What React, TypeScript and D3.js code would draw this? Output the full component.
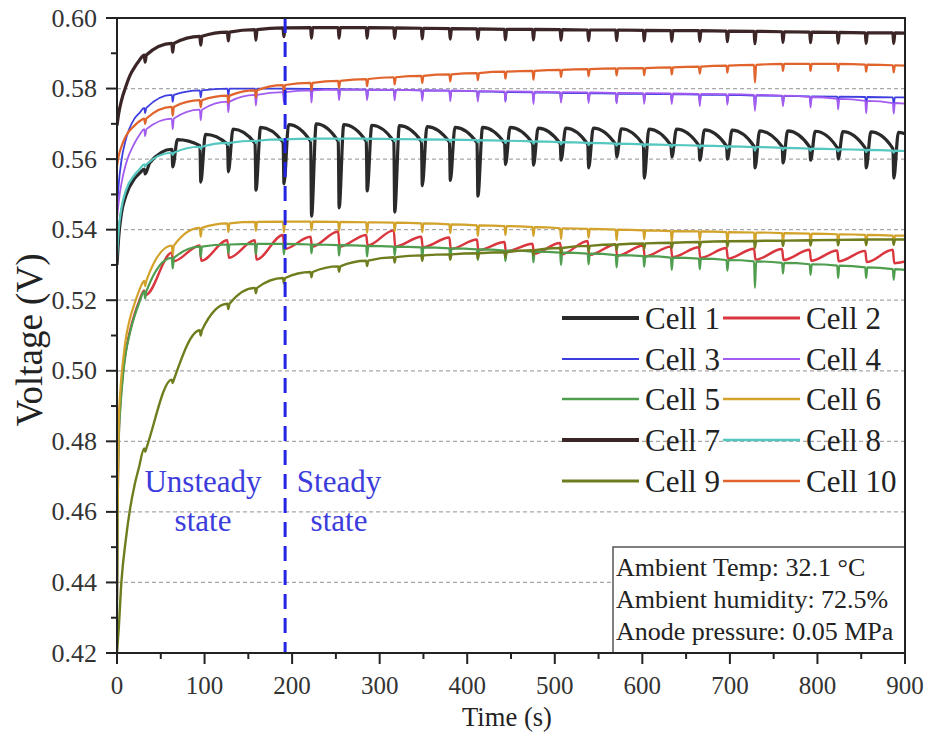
import React from 'react';
import * as d3 from 'd3';

const W = 928;
const H = 733;
const PLOT = { left: 117, right: 905, top: 18, bottom: 653 };
const FONT = "'Liberation Serif', 'Times New Roman', serif";

// Purge (spike) instants, seconds
const purgeTimes = [31.5, 63, 95, 126.5, 158, 190, 221.5, 253, 285, 316.5, 348, 380, 411.5, 443, 475, 506.5, 538, 570, 601.5, 633, 665, 696.5, 728, 760, 791.5, 823, 855, 886.5];

const seriesNames = ['Cell 1', 'Cell 2', 'Cell 3', 'Cell 4', 'Cell 5', 'Cell 6', 'Cell 7', 'Cell 8', 'Cell 9', 'Cell 10'];
const seriesColors = ['#2a2a2a', '#d9363e', '#3d3de0', '#a35cf0', '#4f9e4f', '#d2a22a', '#3b2526', '#55c7c0', '#6f7d1e', '#e0642c'];

// start-up ramps [t, V]
const ramp1 = [[0, 0.530], [2, 0.538], [5, 0.5445], [10, 0.5495], [20, 0.5545], [26, 0.556]];
const ramp2 = [[0, 0.435], [1, 0.468], [2, 0.482], [4, 0.4915], [7, 0.5], [10, 0.5055], [15, 0.5115], [20, 0.516], [25, 0.5195]];
const ramp3 = [[0, 0.545], [2, 0.553], [5, 0.5595], [10, 0.5655], [20, 0.5715], [26, 0.5732]];
const ramp4 = [[0, 0.543], [2, 0.548], [5, 0.553], [10, 0.5585], [20, 0.5645], [26, 0.567]];
const ramp5 = [[0, 0.43], [1, 0.465], [2, 0.48], [4, 0.49], [7, 0.499], [10, 0.505], [15, 0.511], [20, 0.5155], [25, 0.519]];
const ramp6 = [[0, 0.44], [1, 0.47], [2, 0.485], [4, 0.495], [7, 0.503], [10, 0.509], [15, 0.515], [20, 0.519], [25, 0.5225]];
const ramp7 = [[0, 0.5695], [2, 0.573], [5, 0.5765], [10, 0.5805], [15, 0.5838], [20, 0.586], [25, 0.5878]];
const ramp8 = [[0, 0.532], [2, 0.54], [5, 0.546], [10, 0.551], [20, 0.5555], [26, 0.5572]];
const ramp9 = [[0, 0.42], [2, 0.427], [5, 0.44], [10, 0.452], [15, 0.461], [20, 0.4675], [25, 0.4725]];
const ramp10 = [[0, 0.558], [2, 0.561], [5, 0.5635], [10, 0.5665], [20, 0.5695], [26, 0.5708]];

// Cell 1: value before each purge, bottom of dip, recovered peak
const cell1Pre = [0.5572, 0.5628, 0.5638, 0.5642, 0.5645, 0.5648, 0.565, 0.565, 0.565, 0.565, 0.565, 0.5648, 0.5646, 0.5645, 0.5645, 0.5644, 0.5642, 0.5641, 0.564, 0.5639, 0.5638, 0.5637, 0.5636, 0.5635, 0.5634, 0.5632, 0.5631, 0.563];
const cell1Dip = [0.5558, 0.5578, 0.5535, 0.5564, 0.5512, 0.553, 0.5438, 0.5462, 0.551, 0.545, 0.5525, 0.554, 0.5495, 0.5585, 0.5583, 0.5597, 0.5575, 0.5606, 0.5546, 0.5606, 0.5597, 0.56, 0.5575, 0.5589, 0.5597, 0.56, 0.5575, 0.5546];
const cell1Peak = [0.559, 0.5655, 0.567, 0.5685, 0.569, 0.5698, 0.57, 0.5698, 0.5696, 0.5695, 0.5692, 0.569, 0.569, 0.569, 0.5688, 0.5688, 0.5688, 0.5686, 0.5685, 0.5685, 0.5683, 0.5682, 0.568, 0.568, 0.5679, 0.5678, 0.5677, 0.5676];

// Cell 2: value before each purge, value just after
const cell2Pre = [0.5228, 0.5335, 0.5355, 0.537, 0.537, 0.5385, 0.538, 0.5395, 0.5385, 0.5398, 0.538, 0.5378, 0.5372, 0.5365, 0.536, 0.5362, 0.5368, 0.5358, 0.5355, 0.5352, 0.535, 0.5348, 0.5346, 0.5345, 0.5343, 0.5341, 0.534, 0.5343];
const cell2Low = [0.5215, 0.531, 0.5312, 0.532, 0.5315, 0.5345, 0.5352, 0.5352, 0.5355, 0.5352, 0.535, 0.5345, 0.5342, 0.5338, 0.5332, 0.533, 0.5328, 0.5326, 0.5324, 0.5322, 0.532, 0.5318, 0.5315, 0.5314, 0.5312, 0.531, 0.5308, 0.5305];

// Other cells: level at each purge and depth of the spike
const lvl3 = [0.5745, 0.5782, 0.5795, 0.58, 0.58, 0.58, 0.5799, 0.5798, 0.5797, 0.5796, 0.5795, 0.5794, 0.5792, 0.579, 0.5789, 0.5788, 0.5787, 0.5786, 0.5785, 0.5784, 0.5783, 0.5782, 0.578, 0.5779, 0.5778, 0.5777, 0.5776, 0.5775];
const dip3 = [0.0015, 0.002, 0.002, 0.002, 0.002, 0.0025, 0.002, 0.002, 0.0025, 0.002, 0.002, 0.002, 0.002, 0.0025, 0.002, 0.002, 0.002, 0.0025, 0.002, 0.002, 0.002, 0.002, 0.0035, 0.002, 0.002, 0.002, 0.002, 0.002];
const lvl4 = [0.5685, 0.5715, 0.574, 0.5763, 0.5782, 0.579, 0.5795, 0.5797, 0.5797, 0.5796, 0.5795, 0.5794, 0.5793, 0.5792, 0.5791, 0.579, 0.5789, 0.5788, 0.5787, 0.5786, 0.5785, 0.5784, 0.5782, 0.578, 0.5776, 0.5771, 0.5765, 0.5759];
const dip4 = [0.002, 0.003, 0.003, 0.003, 0.003, 0.003, 0.0035, 0.003, 0.003, 0.003, 0.003, 0.003, 0.003, 0.003, 0.0035, 0.003, 0.003, 0.003, 0.003, 0.003, 0.0035, 0.003, 0.0045, 0.003, 0.003, 0.003, 0.0035, 0.003];
const lvl5 = [0.5225, 0.532, 0.5352, 0.5358, 0.536, 0.536, 0.5358, 0.5356, 0.5354, 0.5352, 0.535, 0.5347, 0.5344, 0.5341, 0.5338, 0.5335, 0.5332, 0.5328, 0.5325, 0.5321, 0.5318, 0.5314, 0.531, 0.5306, 0.5302, 0.5298, 0.5293, 0.5288];
const dip5 = [0.002, 0.003, 0.003, 0.0025, 0.003, 0.003, 0.0025, 0.003, 0.003, 0.0025, 0.003, 0.003, 0.003, 0.003, 0.003, 0.0035, 0.003, 0.0035, 0.003, 0.0035, 0.003, 0.003, 0.0075, 0.003, 0.003, 0.0035, 0.003, 0.003];
const lvl6 = [0.5255, 0.5355, 0.5405, 0.5418, 0.5422, 0.5423, 0.5423, 0.5422, 0.5421, 0.542, 0.5418, 0.5415, 0.5412, 0.541, 0.5407, 0.5404, 0.5402, 0.54, 0.5398, 0.5396, 0.5395, 0.5393, 0.5392, 0.539, 0.5389, 0.5387, 0.5385, 0.5383];
const dip6 = [0.0015, 0.0025, 0.0025, 0.0025, 0.0025, 0.003, 0.0025, 0.0025, 0.003, 0.0025, 0.0025, 0.0025, 0.003, 0.0025, 0.0025, 0.003, 0.0025, 0.003, 0.0025, 0.003, 0.0025, 0.003, 0.0035, 0.0025, 0.003, 0.0025, 0.003, 0.0025];
const lvl7 = [0.5895, 0.5928, 0.5948, 0.596, 0.5967, 0.5972, 0.5973, 0.5973, 0.5973, 0.5972, 0.5971, 0.597, 0.5969, 0.5968, 0.5968, 0.5967, 0.5966, 0.5966, 0.5965, 0.5964, 0.5964, 0.5963, 0.5962, 0.5961, 0.596, 0.5959, 0.5958, 0.5958];
const dip7 = [0.002, 0.0025, 0.0025, 0.0025, 0.003, 0.0025, 0.003, 0.003, 0.003, 0.003, 0.003, 0.003, 0.003, 0.003, 0.003, 0.003, 0.003, 0.003, 0.003, 0.003, 0.003, 0.003, 0.0035, 0.003, 0.003, 0.003, 0.003, 0.003];
const lvl8 = [0.5585, 0.5618, 0.5635, 0.5646, 0.5652, 0.5656, 0.5658, 0.5658, 0.5658, 0.5657, 0.5656, 0.5655, 0.5654, 0.5652, 0.565, 0.5648, 0.5646, 0.5644, 0.5642, 0.564, 0.5638, 0.5636, 0.5634, 0.5632, 0.563, 0.5628, 0.5626, 0.5624];
const dip8 = [0.0006, 0.0006, 0.0006, 0.0006, 0.0006, 0.0006, 0.0006, 0.0006, 0.0006, 0.0006, 0.0006, 0.0006, 0.0006, 0.0006, 0.0006, 0.0006, 0.0006, 0.0006, 0.0006, 0.0006, 0.0006, 0.0006, 0.001, 0.0006, 0.0006, 0.0006, 0.0006, 0.0006];
const lvl9 = [0.478, 0.4975, 0.5115, 0.519, 0.5235, 0.5263, 0.528, 0.5296, 0.5312, 0.5322, 0.5327, 0.533, 0.5333, 0.5336, 0.5342, 0.5348, 0.5354, 0.5358, 0.5361, 0.5363, 0.5365, 0.5367, 0.5368, 0.5369, 0.537, 0.5371, 0.5372, 0.5372];
const dip9 = [0.001, 0.001, 0.0015, 0.0015, 0.0015, 0.0015, 0.0015, 0.0015, 0.0015, 0.0015, 0.0015, 0.0015, 0.0015, 0.0015, 0.0015, 0.0015, 0.0015, 0.0015, 0.0015, 0.0015, 0.0015, 0.0015, 0.002, 0.0015, 0.0015, 0.0015, 0.0015, 0.0015];
const lvl10 = [0.5715, 0.5748, 0.5767, 0.578, 0.5795, 0.581, 0.5816, 0.5822, 0.5827, 0.5832, 0.5836, 0.584, 0.5844, 0.5848, 0.585, 0.5853, 0.5855, 0.5857, 0.5858, 0.586, 0.5862, 0.5865, 0.5867, 0.587, 0.587, 0.587, 0.5868, 0.5866];
const dip10 = [0.0015, 0.0025, 0.002, 0.002, 0.002, 0.002, 0.002, 0.002, 0.002, 0.002, 0.002, 0.002, 0.002, 0.002, 0.0025, 0.002, 0.002, 0.002, 0.002, 0.002, 0.002, 0.002, 0.005, 0.002, 0.002, 0.002, 0.002, 0.002];

// values at t = 900 s
const endValues = [0.5672, 0.531, 0.5775, 0.5757, 0.5286, 0.5383, 0.5957, 0.5623, 0.5372, 0.5865];

const yTicks = [0.42, 0.44, 0.46, 0.48, 0.50, 0.52, 0.54, 0.56, 0.58, 0.60];
const yMinor = [0.43, 0.45, 0.47, 0.49, 0.51, 0.53, 0.55, 0.57, 0.59];
const yGrid = [0.44, 0.46, 0.48, 0.50, 0.52, 0.54, 0.56, 0.58];
const xTicks = [0, 100, 200, 300, 400, 500, 600, 700, 800, 900];
const xMinor = [50, 150, 250, 350, 450, 550, 650, 750, 850];
const boundaryTime = 192;
const infoLines = ['Ambient Temp: 32.1 °C', 'Ambient humidity: 72.5%', 'Anode pressure: 0.05 MPa'];

type Pt = [number, number];

function buildSmooth(ramp: number[][], lvl: number[], dip: number[], end: number): Pt[] {
  const pts: Pt[] = ramp.map((d) => [d[0], d[1]] as Pt);
  purgeTimes.forEach((t, k) => {
    pts.push([t - 0.4, lvl[k]], [t + 0.6, lvl[k] - dip[k]], [t + 2, lvl[k]]);
  });
  pts.push([900, end]);
  return pts;
}

function buildCell1(): Pt[] {
  const pts: Pt[] = ramp1.map((d) => [d[0], d[1]] as Pt);
  purgeTimes.forEach((t, k) => {
    pts.push([t - 0.3, cell1Pre[k]], [t + 0.7, cell1Dip[k]], [t + 6, cell1Peak[k]]);
  });
  pts.push([900, endValues[0]]);
  return pts;
}

function buildCell2(): Pt[] {
  const pts: Pt[] = ramp2.map((d) => [d[0], d[1]] as Pt);
  purgeTimes.forEach((t, k) => {
    pts.push([t - 0.4, cell2Pre[k]], [t + 1.2, cell2Low[k]]);
  });
  pts.push([900, endValues[1]]);
  return pts;
}

const seriesData: Pt[][] = [
  buildCell1(),
  buildCell2(),
  buildSmooth(ramp3, lvl3, dip3, endValues[2]),
  buildSmooth(ramp4, lvl4, dip4, endValues[3]),
  buildSmooth(ramp5, lvl5, dip5, endValues[4]),
  buildSmooth(ramp6, lvl6, dip6, endValues[5]),
  buildSmooth(ramp7, lvl7, dip7, endValues[6]),
  buildSmooth(ramp8, lvl8, dip8, endValues[7]),
  buildSmooth(ramp9, lvl9, dip9, endValues[8]),
  buildSmooth(ramp10, lvl10, dip10, endValues[9]),
];

const lineWidths = [3.2, 2.4, 1.8, 1.8, 2.2, 2.2, 3.2, 2.2, 2.4, 2.2];
const legendWidths = [4, 3, 1.8, 1.8, 2.5, 2.5, 4, 2.5, 3, 2.5];

export default function App() {
  const x = d3.scaleLinear().domain([0, 900]).range([PLOT.left, PLOT.right]);
  const y = d3.scaleLinear().domain([0.42, 0.60]).range([PLOT.bottom, PLOT.top]);
  const line = d3
    .line<Pt>()
    .x((d) => x(d[0]))
    .y((d) => y(d[1]))
    .curve(d3.curveMonotoneX);

  const legendCols = [562, 723];
  const legendRows = [318, 359, 399, 440, 481];

  return (
    <svg
      width={W}
      height={H}
      viewBox={`0 0 ${W} ${H}`}
      style={{ position: 'absolute', left: 0, top: 0, background: '#fff' }}
      fontFamily={FONT}
    >
      <rect x={0} y={0} width={W} height={H} fill="#fff" />
      <defs>
        <clipPath id="plotClip">
          <rect x={PLOT.left} y={PLOT.top} width={PLOT.right - PLOT.left} height={PLOT.bottom - PLOT.top} />
        </clipPath>
      </defs>

      {/* grid */}
      {yGrid.map((v) => (
        <line
          key={'g' + v}
          x1={PLOT.left}
          x2={PLOT.right}
          y1={y(v)}
          y2={y(v)}
          stroke="#a8a8a8"
          strokeWidth={1.2}
          strokeDasharray="4 3"
        />
      ))}

      {/* series */}
      <g clipPath="url(#plotClip)">
        {seriesData.map((pts, i) => (
          <path
            key={seriesNames[i]}
            d={line(pts) || ''}
            fill="none"
            stroke={seriesColors[i]}
            strokeWidth={lineWidths[i]}
            strokeLinejoin="round"
          />
        ))}
      </g>

      {/* boundary */}
      <line
        x1={x(boundaryTime)}
        x2={x(boundaryTime)}
        y1={PLOT.top}
        y2={PLOT.bottom}
        stroke="#2424e6"
        strokeWidth={3}
        strokeDasharray="15 9"
      />
      <g fill="#3c3cdc" fontSize={31} textAnchor="middle">
        <text x={203} y={492}>Unsteady</text>
        <text x={203} y={531}>state</text>
        <text x={339} y={492}>Steady</text>
        <text x={339} y={531}>state</text>
      </g>

      {/* legend */}
      {seriesNames.map((name, i) => {
        const col = i % 2;
        const row = Math.floor(i / 2);
        const lx = legendCols[col];
        const ly = legendRows[row];
        return (
          <g key={'lg' + name}>
            <line x1={lx} x2={lx + 77} y1={ly} y2={ly} stroke={seriesColors[i]} strokeWidth={legendWidths[i]} />
            <text x={lx + 83} y={ly + 11} fontSize={31} fill="#222">
              {name}
            </text>
          </g>
        );
      })}

      {/* info box */}
      <rect x={613} y={547} width={PLOT.right - 613} height={PLOT.bottom - 547} fill="#fff" stroke="#555" strokeWidth={1.5} />
      {infoLines.map((t, i) => (
        <text key={t} x={616} y={576 + i * 32} fontSize={26} fill="#222">
          {t}
        </text>
      ))}

      {/* frame */}
      <rect
        x={PLOT.left}
        y={PLOT.top}
        width={PLOT.right - PLOT.left}
        height={PLOT.bottom - PLOT.top}
        fill="none"
        stroke="#222"
        strokeWidth={2}
      />

      {/* y axis ticks */}
      {yTicks.map((v) => (
        <g key={'yt' + v}>
          <line x1={PLOT.left - 11} x2={PLOT.left} y1={y(v)} y2={y(v)} stroke="#222" strokeWidth={2} />
          <text x={97} y={y(v) + 8.5} fontSize={26} textAnchor="end" fill="#333">
            {v.toFixed(2)}
          </text>
        </g>
      ))}
      {yMinor.map((v) => (
        <line key={'ym' + v} x1={PLOT.left - 6} x2={PLOT.left} y1={y(v)} y2={y(v)} stroke="#222" strokeWidth={2} />
      ))}

      {/* x axis ticks */}
      {xTicks.map((v) => (
        <g key={'xt' + v}>
          <line x1={x(v)} x2={x(v)} y1={PLOT.bottom} y2={PLOT.bottom + 11} stroke="#222" strokeWidth={2} />
          <text x={x(v)} y={694} fontSize={25} textAnchor="middle" fill="#333">
            {v}
          </text>
        </g>
      ))}
      {xMinor.map((v) => (
        <line key={'xm' + v} x1={x(v)} x2={x(v)} y1={PLOT.bottom} y2={PLOT.bottom + 6} stroke="#222" strokeWidth={2} />
      ))}

      {/* axis titles */}
      <text
        transform={`translate(${(PLOT.left + PLOT.right) / 2 - 4}, 726) scale(0.95, 1)`}
        fontSize={28}
        textAnchor="middle"
        fill="#222"
      >
        Time (s)
      </text>
      <text transform="translate(42, 340) rotate(-90)" fontSize={37} textAnchor="middle" fill="#222">
        Voltage (V)
      </text>
    </svg>
  );
}
